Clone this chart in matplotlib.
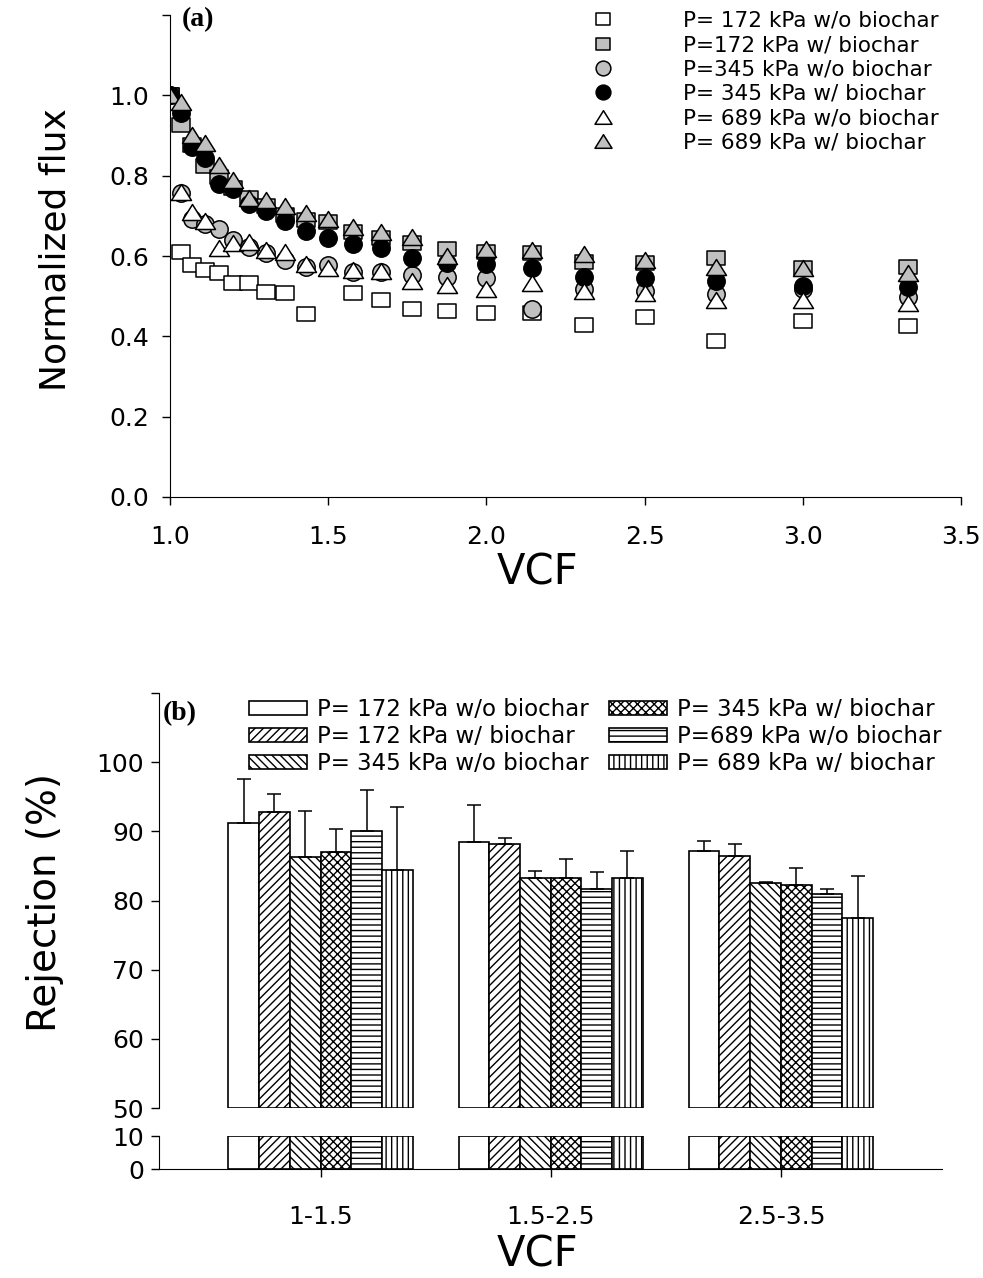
import matplotlib.pyplot as plt
from matplotlib.path import Path
import numpy as np

plt.rcParams['font.family'] = ['DejaVu Sans']

# ---- panel (a): normalized flux vs VCF ----
vcf = [1.0, 1.034, 1.071, 1.111, 1.154, 1.2, 1.25, 1.304, 1.364, 1.429, 1.5,
       1.579, 1.667, 1.765, 1.875, 2.0, 2.143, 2.308, 2.5, 2.727, 3.0, 3.333]
flux_172_wo = [1.0, 0.609, 0.577, 0.564, 0.558, 0.534, 0.533, 0.510, 0.507, 0.456, np.nan,
               0.509, 0.491, 0.467, 0.464, 0.457, 0.458, 0.429, 0.447, 0.389, 0.439, 0.425]
flux_172_w = [1.0, 0.927, 0.876, 0.823, 0.796, 0.770, 0.745, 0.724, 0.701, 0.689, 0.685,
              0.659, 0.644, 0.632, 0.618, 0.609, 0.607, 0.585, 0.583, 0.594, 0.571, 0.573]
flux_345_wo = [1.0, 0.758, 0.692, 0.679, 0.667, 0.639, 0.622, 0.607, 0.590, 0.573, 0.577,
               0.560, 0.561, 0.552, 0.547, 0.546, 0.468, 0.517, 0.513, 0.505, 0.519, 0.498]
flux_345_w = [1.0, 0.957, 0.871, 0.845, 0.780, 0.768, 0.729, 0.711, 0.687, 0.662, 0.646,
              0.631, 0.619, 0.594, 0.583, 0.579, 0.570, 0.548, 0.544, 0.538, 0.525, 0.522]
flux_689_wo = [1.0, 0.760, 0.710, 0.687, 0.621, 0.632, 0.635, 0.616, 0.610, 0.581, 0.571,
               0.565, 0.563, 0.537, 0.528, 0.517, 0.532, 0.512, 0.507, 0.490, 0.491, 0.483]
flux_689_w = [1.0, 0.983, 0.900, 0.882, 0.826, 0.789, 0.744, 0.739, 0.724, 0.706, 0.692,
              0.672, 0.660, 0.647, 0.600, 0.618, 0.615, 0.605, 0.589, 0.572, 0.570, 0.558]
labels_a = ["P= 172 kPa w/o biochar", "P=172 kPa w/ biochar", "P=345 kPa w/o biochar",
            "P= 345 kPa w/ biochar", "P= 689 kPa w/o biochar", "P= 689 kPa w/ biochar"]

# ---- panel (b): rejection per VCF range ----
vcf_ranges = ["1-1.5", "1.5-2.5", "2.5-3.5"]
rej_172_wo = [91.2, 88.5, 87.2]
rej_172_w = [92.8, 88.2, 86.5]
rej_345_wo = [86.3, 83.2, 82.5]
rej_345_w = [87.0, 83.2, 82.2]
rej_689_wo = [90.1, 81.7, 80.9]
rej_689_w = [84.4, 83.2, 77.5]
err_172_wo = [6.4, 5.3, 1.4]
err_172_w = [2.6, 0.9, 1.6]
err_345_wo = [6.7, 1.0, 0.2]
err_345_w = [3.3, 2.8, 2.5]
err_689_wo = [5.9, 2.4, 0.7]
err_689_w = [9.1, 4.0, 6.0]
labels_b = ["P= 172 kPa w/o biochar", "P= 172 kPa w/ biochar", "P= 345 kPa w/o biochar",
            "P= 345 kPa w/ biochar", "P=689 kPa w/o biochar", "P= 689 kPa w/ biochar"]

W, H = 983, 1278
gray = '#c0c0c0'


def box(left, top, right, bottom):
    return [left / W, 1 - bottom / H, (right - left) / W, (bottom - top) / H]


sq = Path([(-1, -0.85), (1, -0.85), (1, 0.85), (-1, 0.85), (-1, -0.85)], closed=True)
tri = Path([(-1, -0.8), (1, -0.8), (0, 0.8), (-1, -0.8)], closed=True)

fig = plt.figure(figsize=(W / 100, H / 100), dpi=100)

ax1 = fig.add_axes(box(170, 15, 961, 497))
series_a = [flux_172_wo, flux_172_w, flux_345_wo, flux_345_w, flux_689_wo, flux_689_w]
markers = [sq, sq, 'o', 'o', tri, tri]
sizes = [12.7, 12.7, 12.5, 12.5, 14.4, 14.4]
faces = ['white', gray, gray, 'black', 'white', gray]
for y, m, s, fc, lab in zip(series_a, markers, sizes, faces, labels_a):
    ax1.plot(vcf, y, linestyle='none', marker=m, markersize=s, markerfacecolor=fc,
             markeredgecolor='black', markeredgewidth=1.1, label=lab)

ax1.set_xlim(1.0, 3.5)
ax1.set_ylim(0, 1.2)
ax1.set_xticks([1.0, 1.5, 2.0, 2.5, 3.0, 3.5])
ax1.set_yticks([0, 0.2, 0.4, 0.6, 0.8, 1.0, 1.2])
ax1.set_yticklabels(['0.0', '0.2', '0.4', '0.6', '0.8', '1.0', ''])
ax1.spines['top'].set_visible(False)
ax1.spines['right'].set_visible(False)
ax1.tick_params(axis='both', direction='out', length=6, width=1, labelsize=18)
ax1.tick_params(axis='x', pad=14)
ax1.tick_params(axis='y', pad=9)
ax1.set_xlabel("VCF", fontsize=30, va='center')
ax1.xaxis.set_label_coords((537 - 170) / 791, -(573 - 497) / 482)
ax1.set_ylabel("Normalized flux", fontsize=26, va='center')
ax1.yaxis.set_label_coords((55 - 170) / 791, (497 - 250) / 482)
fig.text(182 / W, 1 - 20 / H, "(a)", fontsize=20, fontweight='bold',
         family='Liberation Serif', va='center', ha='left')
ax1.legend(loc='upper left', bbox_to_anchor=(583 / W, 1 - 11 / H), bbox_transform=fig.transFigure,
           frameon=False, fontsize=15.5, markerscale=0.85, handlelength=1.86, handletextpad=2.79,
           labelspacing=0.2, borderpad=0, borderaxespad=0)

# ---- panel (b) with broken y axis ----
ax_top = fig.add_axes(box(159.4, 693, 942, 1108))
ax_bot = fig.add_axes(box(159.4, 1136, 942, 1169.3))

series_b = [rej_172_wo, rej_172_w, rej_345_wo, rej_345_w, rej_689_wo, rej_689_w]
errors_b = [err_172_wo, err_172_w, err_345_wo, err_345_w, err_689_wo, err_689_w]
hatches = [None, '////', '\\\\\\\\', 'xxxx', '---', '|||']
n = len(series_b)
width = 0.8 / n
xc = np.arange(len(vcf_ranges))
for i, (vals, errs, h, lab) in enumerate(zip(series_b, errors_b, hatches, labels_b)):
    xpos = xc + (i - (n - 1) / 2) * width
    vals = np.array(vals)
    errs = np.array(errs)
    ax_top.bar(xpos, vals - 50, bottom=50, width=width, color='white', edgecolor='black',
               hatch=h, linewidth=1.2, label=lab)
    ax_top.errorbar(xpos, vals, yerr=[np.zeros_like(errs), errs], fmt='none', ecolor='black',
                    elinewidth=1.1, capsize=5, capthick=1.1)
    ax_bot.bar(xpos, np.minimum(vals, 10), width=width, color='white', edgecolor='black',
               hatch=h, linewidth=1.2)

for a in (ax_top, ax_bot):
    a.set_xlim(-0.7, 2.7)
    a.spines['top'].set_visible(False)
    a.spines['right'].set_visible(False)
    a.tick_params(axis='both', direction='out', length=6, width=1, labelsize=18)
    a.tick_params(axis='y', pad=5)

ax_top.set_ylim(50, 110)
ax_top.set_yticks([50, 60, 70, 80, 90, 100, 110])
ax_top.set_yticklabels(['50', '60', '70', '80', '90', '100', ''])
ax_top.spines['bottom'].set_visible(False)
ax_top.set_xticks([])

ax_bot.set_ylim(0, 10)
ax_bot.set_yticks([0, 10])
ax_bot.set_xticks(xc)
ax_bot.set_xticklabels(vcf_ranges)
ax_bot.tick_params(axis='x', pad=20)
ax_bot.set_xlabel("VCF", fontsize=30, va='center')
ax_bot.xaxis.set_label_coords((537 - 159.4) / 782.6, -(1255 - 1169.3) / 33.3)

ax_top.set_ylabel("Rejection (%)", fontsize=28, va='center')
ax_top.yaxis.set_label_coords((45 - 159.4) / 782.6, (1108 - 902) / 415)
fig.text(163 / W, 1 - 714 / H, "(b)", fontsize=20, fontweight='bold',
         family='Liberation Serif', va='center', ha='left')

ax_top.legend(ncol=2, loc='upper left', bbox_to_anchor=(249 / W, 1 - 698 / H),
              bbox_transform=fig.transFigure, frameon=False, fontsize=16.5,
              handlelength=2.53, handleheight=0.55, handletextpad=0.45, columnspacing=0.87,
              labelspacing=0.175, borderpad=0, borderaxespad=0)

fig.savefig("out.png", dpi=100)
